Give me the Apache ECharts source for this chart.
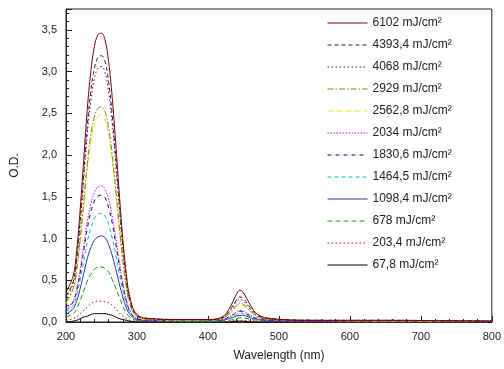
<!DOCTYPE html>
<html><head><meta charset="utf-8">
<script src="https://cdn.jsdelivr.net/npm/echarts@6/dist/echarts.min.js"></script>
<style>html,body{margin:0;padding:0;background:#fff}#c{width:504px;height:369px}</style>
</head><body><div id="c"></div>
<script>
var wavelengths = [200,210,215,220,225,230,235,240,245,250,255,260,265,270,275,280,285,290,300,320,360,400,420,430,440,445,450,460,470,490,550,650,800];
var labels = ['6102 mJ/cm²','4393,4 mJ/cm²','4068 mJ/cm²','2929 mJ/cm²','2562,8 mJ/cm²','2034 mJ/cm²','1830,6 mJ/cm²','1464,5 mJ/cm²','1098,4 mJ/cm²','678 mJ/cm²','203,4 mJ/cm²','67,8 mJ/cm²'];
var s6102 = [0.36,0.55,0.85,1.35,1.95,2.55,3.0,3.3,3.44,3.46,3.38,3.12,2.7,2.15,1.55,1.0,0.58,0.3,0.09,0.04,0.03,0.03,0.06,0.16,0.33,0.38,0.35,0.2,0.09,0.04,0.02,0.02,0.01];
var s4393 = [0.31,0.48,0.76,1.22,1.78,2.35,2.77,3.04,3.17,3.19,3.12,2.88,2.49,1.98,1.43,0.92,0.53,0.27,0.08,0.04,0.03,0.03,0.05,0.13,0.26,0.3,0.28,0.17,0.08,0.04,0.02,0.02,0.01];
var s4068 = [0.29,0.46,0.74,1.18,1.71,2.25,2.65,2.92,3.04,3.06,2.99,2.76,2.39,1.9,1.37,0.88,0.51,0.26,0.08,0.04,0.03,0.03,0.05,0.12,0.24,0.27,0.25,0.15,0.07,0.03,0.02,0.02,0.01];
var s2929 = [0.24,0.4,0.62,0.99,1.44,1.9,2.24,2.46,2.56,2.58,2.52,2.33,2.01,1.6,1.16,0.75,0.43,0.22,0.07,0.03,0.02,0.02,0.04,0.1,0.2,0.23,0.21,0.13,0.06,0.03,0.02,0.01,0.01];
var s2562 = [0.22,0.38,0.6,0.96,1.39,1.82,2.15,2.37,2.46,2.48,2.42,2.24,1.93,1.54,1.11,0.72,0.42,0.21,0.06,0.03,0.02,0.02,0.04,0.09,0.18,0.21,0.19,0.12,0.06,0.03,0.02,0.01,0.01];
var s2034 = [0.15,0.25,0.4,0.63,0.92,1.2,1.41,1.55,1.62,1.63,1.59,1.47,1.27,1.01,0.73,0.47,0.27,0.14,0.04,0.02,0.02,0.02,0.03,0.06,0.12,0.14,0.13,0.08,0.04,0.02,0.01,0.01,0.01];
var s1830 = [0.14,0.24,0.37,0.59,0.86,1.12,1.32,1.45,1.51,1.52,1.49,1.37,1.19,0.94,0.68,0.44,0.26,0.13,0.04,0.02,0.02,0.02,0.03,0.06,0.11,0.13,0.12,0.07,0.04,0.02,0.01,0.01,0.01];
var s1464 = [0.12,0.2,0.32,0.51,0.73,0.96,1.13,1.24,1.29,1.3,1.27,1.17,1.01,0.81,0.58,0.38,0.22,0.11,0.03,0.02,0.01,0.01,0.02,0.05,0.09,0.11,0.1,0.06,0.03,0.02,0.01,0.01,0.0];
var s1098 = [0.09,0.16,0.25,0.4,0.58,0.76,0.89,0.98,1.02,1.03,1.01,0.93,0.8,0.64,0.46,0.3,0.17,0.09,0.03,0.01,0.01,0.01,0.02,0.04,0.07,0.08,0.08,0.05,0.03,0.01,0.01,0.0,0.0];
var s678 = [0.06,0.1,0.16,0.26,0.37,0.49,0.57,0.63,0.66,0.66,0.64,0.6,0.51,0.41,0.3,0.19,0.11,0.06,0.02,0.01,0.01,0.01,0.01,0.02,0.04,0.05,0.05,0.03,0.02,0.01,0.0,0.0,0.0];
var s203 = [0.02,0.04,0.06,0.1,0.14,0.18,0.22,0.24,0.25,0.25,0.24,0.23,0.2,0.16,0.11,0.07,0.04,0.02,0.01,0.0,0.0,0.0,0.0,0.01,0.02,0.02,0.02,0.01,0.01,0.0,0.0,0.0,0.0];
var s67 = [0.0,0.01,0.02,0.04,0.06,0.07,0.09,0.1,0.1,0.1,0.1,0.09,0.08,0.06,0.04,0.03,0.02,0.01,0.0,0.0,0.0,0.0,0.0,0.0,0.01,0.01,0.01,0.0,0.0,0.0,0.0,0.0,0.0];
var allSeries = [s6102,s4393,s4068,s2929,s2562,s2034,s1830,s1464,s1098,s678,s203,s67];
var colors = ['#800000','#202050','#600060','#808000','#e8e820','#e000e0','#000080','#00c0c0','#3030a0','#00a000','#e00000','#000000'];
var dashes = ['solid',[4,3],[1.5,2.5],[6,2,1.5,2],[6,3],[1.5,1.5],[4,4],[4,3],'solid',[5,3],[1.5,2.5],'solid'];

var chart = echarts.init(document.getElementById('c'));
var series = allSeries.map(function(vals, i){
  return {
    name: labels[i], type: 'line', symbol: 'none', smooth: 0.4,
    data: wavelengths.map(function(w, j){ return [w, vals[j]]; }),
    lineStyle: {color: colors[i], width: 1, type: dashes[i]},
    itemStyle: {color: colors[i]}, z: 12 - i
  };
});
var tickFmt = function(v){ return v.toFixed(1).replace('.', ','); };
chart.setOption({
  animation: false,
  grid: {left: 66, right: 12, top: 9, bottom: 47, show: true, borderColor: '#222', borderWidth: 1},
  legend: {
    orient: 'vertical', left: 322, top: 12, itemWidth: 40, itemHeight: 12, itemGap: 10,
    data: labels,
    itemStyle: {opacity: 0},
    lineStyle: {width: 1},
    textStyle: {fontFamily: 'Liberation Sans, Arial', fontSize: 12, lineHeight: 12, color: '#222'}
  },
  xAxis: {
    type: 'value', min: 200, max: 800, interval: 100,
    name: 'Wavelength (nm)', nameLocation: 'middle', nameGap: 28,
    nameTextStyle: {fontFamily: 'Liberation Sans, Arial', fontSize: 12, color: '#222'},
    axisLine: {lineStyle: {color: '#222'}},
    axisTick: {inside: true, length: 6, lineStyle: {color: '#222'}},
    minorTick: {show: true, splitNumber: 5, length: 3, lineStyle: {color: '#222'}},
    axisLabel: {fontFamily: 'Liberation Sans, Arial', fontSize: 11, color: '#222', margin: 9},
    splitLine: {show: false}
  },
  yAxis: {
    type: 'value', min: 0, max: 3.75, interval: 0.5,
    name: 'O.D.', nameLocation: 'middle', nameGap: 45, nameRotate: 90,
    nameTextStyle: {fontFamily: 'Liberation Sans, Arial', fontSize: 12, color: '#222'},
    axisLine: {lineStyle: {color: '#222'}},
    axisTick: {inside: true, length: 6, lineStyle: {color: '#222'}},
    minorTick: {show: true, splitNumber: 5, length: 3, lineStyle: {color: '#222'}},
    axisLabel: {fontFamily: 'Liberation Sans, Arial', fontSize: 11, color: '#222', margin: 9, showMaxLabel: false,
      formatter: function(v){ return Math.abs(v*2 - Math.round(v*2)) < 1e-6 ? tickFmt(v) : ''; }},
    splitLine: {show: false}
  },
  series: series
});
</script>
</body></html>
